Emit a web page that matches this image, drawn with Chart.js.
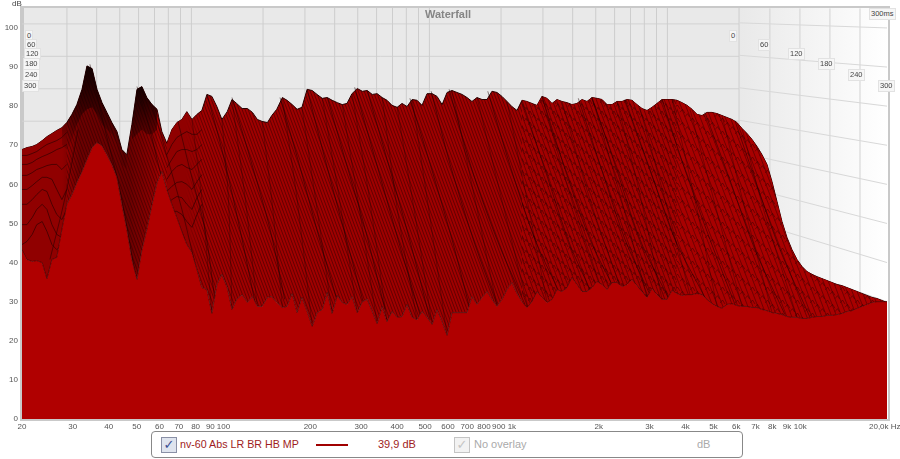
<!DOCTYPE html>
<html>
<head>
<meta charset="utf-8">
<title>Waterfall</title>
<script src="https://cdn.jsdelivr.net/npm/chart.js@4/dist/chart.umd.min.js"></script>
<style>
  html, body { margin: 0; padding: 0; background: #fff; }
  body { width: 900px; height: 459px; overflow: hidden; position: relative; font-family: "Liberation Sans", Arial, sans-serif; }
  canvas { position: absolute; left: 0; top: 0; }
  .t { position: absolute; white-space: nowrap; }
  .tm { position: absolute; font-size: 7.5px; line-height: 10px; height: 10px; padding: 0 1px; color: #444; background: #f6f6f6; border: 1px solid #e2e2e2; }
  .cb { position: absolute; width: 14px; height: 14px; top: 437px; border: 1px solid #8a90a6; background: #dfe4ee; color: #3a4f92; font: bold 13px/14px "DejaVu Sans", sans-serif; text-align: center; }
</style>
</head>
<body>
<canvas id="grafico" width="900" height="459"></canvas>

<div class="t" style="left:425px;top:8px;font-size:11px;font-weight:bold;color:#858585">Waterfall</div>
<div class="t" style="left:12px;top:-1px;font-size:8px;color:#444">dB</div>
<div class="tm" style="left:869px;top:8px;font-size:7.5px">300ms</div>
<div class="t" style="left:869px;top:422px;font-size:8px;color:#555">20,0k Hz</div>

<div style="position:absolute;left:151px;top:431px;width:590px;height:25px;border:1px solid #888;border-radius:4px;background:#fff"></div>
<div class="cb" style="left:161px">&#10003;</div>
<div class="t" style="left:180px;top:438px;font-size:10.7px;color:#a01c22">nv-60 Abs LR BR HB MP</div>
<div style="position:absolute;left:316px;top:444px;width:32px;height:2px;background:#a00000"></div>
<div class="t" style="left:378px;top:438px;font-size:11px;color:#a01c22">39,9 dB</div>
<div class="cb" style="left:454px;background:#f2f2f2;border-color:#c4c4c4;color:#c4c4c4">&#10003;</div>
<div class="t" style="left:474px;top:438px;font-size:11px;color:#aaa">No overlay</div>
<div class="t" style="left:697px;top:438px;font-size:11px;color:#aaa">dB</div>

<script>
  // --- Ejes ---
  const yTicks = [0, 10, 20, 30, 40, 50, 60, 70, 80, 90, 100];
  const xTicks = [20, 30, 40, 50, 60, 70, 80, 90, 100, 200, 300, 400, 500, 600, 700, 800, 900, 1000, 2000, 3000, 4000, 5000, 6000, 7000, 8000, 9000, 10000];
  const xTickLabels = ['20', '30', '40', '50', '60', '70', '80', '90', '100', '200', '300', '400', '500', '600', '700', '800', '900', '1k', '2k', '3k', '4k', '5k', '6k', '7k', '8k', '9k', '10k'];
  const wallFreqs = [30, 40, 50, 60, 70, 80, 90, 100, 200, 300, 400, 500, 600, 700, 800, 900, 1000, 2000, 3000, 4000, 5000, 6000, 7000, 8000, 9000, 10000, 20000];
  const wallDb = [10, 20, 30, 40, 50, 60, 70, 80, 90, 100];
  const timeLineFreqs = [7850, 9980, 12680, 16120];
  const timeLabels = ['0', '60', '120', '180', '240', '300'];

  // --- Curvas ---
  const freqs = [
    20, 20.8, 21.7, 22.5, 23.5, 24.4, 25.4, 26.4, 27.5, 28.6,
    29.8, 31, 32.3, 33.6, 35, 36.4, 37.9, 39.4, 41, 42.7,
    44.4, 46.2, 48.1, 50.1, 52.1, 54.2, 56.5, 58.8, 61.1, 63.6,
    66.2, 68.9, 71.7, 74.6, 77.7, 80.9, 84.1, 87.6, 91.1, 94.8,
    98.7, 103, 107, 111, 116, 121, 126, 131, 136, 142,
    147, 153, 160, 166, 173, 180, 187, 195, 203, 211,
    220, 229, 238, 248, 258, 268, 279, 291, 303, 315,
    328, 341, 355, 369, 384, 400, 416, 433, 451, 469,
    488, 508, 529, 550, 573, 596, 620, 645, 672, 699,
    727, 757, 788, 820, 853, 888, 924, 962, 1000, 1042,
    1084, 1128, 1174, 1222, 1272, 1324, 1378, 1434, 1492, 1553,
    1616, 1682, 1751, 1822, 1896, 1973, 2054, 2138, 2225, 2315,
    2410, 2508, 2610, 2716, 2827, 2942, 3062, 3187, 3317, 3452,
    3592, 3739, 3891, 4050, 4215, 4386, 4565, 4751, 4944, 5146,
    5355, 5573, 5800, 6037, 6283, 6539, 6805, 7082, 7371, 7671,
    7984, 8309, 8647, 9000, 9366, 9748, 10145, 10558, 10988, 11436,
    11902, 12387, 12892, 13417, 13963, 14532, 15124, 15740, 16381, 17048,
    17743, 18466, 19218, 20000
  ];
  // corte de atras (0 ms)
  const backDb = [
    68.9, 69.4, 69.7, 70.2, 71.2, 72.2, 73, 73.8, 74.5, 75.8,
    77.9, 80.4, 84.3, 90.3, 89.6, 84.3, 80.9, 78.4, 75.8, 73.5,
    68.9, 67.6, 75.3, 84.3, 85, 82.2, 80.4, 79.2, 73.5, 70.5,
    74, 75.8, 76.6, 78.6, 76.6, 77.9, 78.9, 83, 82.5, 79.9,
    76.6, 78.6, 81.7, 80.7, 79.4, 79.4, 78.4, 76.6, 76.1, 75.8,
    77.6, 79.2, 82.2, 81.5, 80.4, 79.2, 79.7, 84.3, 84, 83,
    82, 82.2, 81.5, 80.9, 80.4, 80.7, 83.2, 84.5, 83.8, 84,
    83, 83.2, 82.2, 81.5, 80.2, 79.7, 80.7, 79.9, 81.7, 81.5,
    80.2, 83.2, 83.2, 82.5, 80.4, 83.5, 84, 83.5, 83, 82.2,
    81.2, 82.2, 81.7, 81.7, 83.8, 83.5, 82.5, 81.2, 79.9, 78.9,
    81.5, 81.2, 80.7, 80.2, 82.5, 82, 80.7, 81.7, 81.2, 80.9,
    80.4, 80.7, 81.7, 81.2, 82.2, 82, 81.7, 80.4, 80.4, 81.2,
    81.2, 81.7, 81.5, 80.4, 79.4, 78.9, 79.7, 80.7, 81.7, 81.7,
    81.7, 81.5, 80.9, 80.2, 79.2, 77.9, 77.6, 78.4, 78.4, 78.1,
    77.6, 77.1, 76.6, 75.8, 74.3, 73, 71.5, 69.7, 67.6, 65.1,
    60.7, 55.6, 50.5, 46.4, 43.3, 40.8, 39, 37.7, 37, 36.4,
    35.9, 35.4, 34.9, 34.4, 34.1, 33.6, 33.1, 32.6, 32.1, 31.6,
    31.1, 30.8, 30.3, 29.8
  ];
  // corte de delante (300 ms)
  const frontDb = [
    43.3, 40.8, 40.3, 40.5, 40, 35.9, 40.8, 41.3, 48.5, 54.9,
    57.4, 60.5, 63.3, 66.4, 69.4, 70.7, 69.9, 67.6, 65.1, 61.8,
    54.9, 48.5, 40.8, 35.7, 43.3, 48.5, 54.9, 60.5, 63.3, 58.7,
    54.9, 51.5, 48, 44.6, 42.6, 38.2, 33.6, 33.1, 27, 34.4,
    37, 33.6, 28, 30.6, 31.8, 29.8, 31.3, 28.8, 28.8, 31.1,
    31.3, 29.8, 28.5, 28.8, 32.1, 27.2, 31.1, 27.5, 23.7, 27.2,
    28, 32.4, 27, 31.6, 29.8, 29.3, 31.3, 27.2, 30, 30.6,
    27.5, 24.4, 28.8, 24.9, 27.5, 26, 26.2, 29.3, 26, 25.4,
    27.5, 26, 24.2, 28, 24.9, 21.4, 27.2, 27.2, 27.2, 27.2,
    31.3, 29.3, 31.1, 32.6, 30.6, 28.8, 30.6, 33.1, 34.9, 32.1,
    30, 28.5, 30, 32.6, 31.1, 29.8, 30.6, 33.1, 32.6, 33.6,
    36.2, 34.4, 32.6, 32.6, 33.6, 35.2, 34.4, 33.1, 34.9, 34.9,
    33.9, 34.4, 35.7, 34.1, 32.6, 31.1, 33.4, 31.8, 30.6, 30.6,
    32.9, 32.1, 31.6, 31.8, 31.8, 32.1, 31.8, 30.6, 29.5, 28.8,
    28.3, 29.3, 29.5, 29, 28.8, 28.8, 28.5, 28.5, 28, 27.7,
    27.2, 27, 26.7, 26.2, 26, 26, 25.7, 25.7, 26, 26.2,
    26.2, 26.5, 26.5, 26.7, 27, 27.5, 27.7, 28.3, 28.8, 29.3,
    29.8, 30, 30, 30
  ];
  // cortes intermedios visibles a la izquierda (20-29 Hz)
  const lowSlices = [
    [67.4, 67.4, 67.9, 68.4, 69.4, 70.2, 70.7, 71.2, 72, 73.3],
    [65.1, 65.1, 65.6, 66.4, 67.1, 67.6, 68.2, 68.9, 69.4, 70.2],
    [62.3, 62.3, 63, 63.8, 64.3, 64.8, 65.1, 65.1, 63.8, 65.1],
    [58.7, 58.7, 59.7, 60.7, 61.8, 61.8, 61.3, 58.7, 56.1, 58.7],
    [54.9, 54.9, 56.1, 57.4, 58.7, 58.2, 54.9, 52.3, 51, 53.6],
    [49.7, 49.7, 51.5, 53.6, 54.9, 53.6, 49.7, 47.2, 46.4, 49.7],
    [44.6, 45.4, 47.2, 49.7, 50.5, 48, 44.6, 43.3, 44.6, 46.4]
  ];
  // cortes intermedios visibles entre 64 y 84 Hz
  const midSlices = [
    [67.6, 70.2, 72, 72.8, 73.5, 72.8, 72.8, 74],
    [64.3, 66.4, 68.4, 68.9, 68.9, 68.4, 68.9, 70.2],
    [61.3, 63.3, 64.6, 65.1, 64.3, 63.8, 65.1, 66.4],
    [58.2, 59.5, 60.5, 60.7, 60, 58.7, 60.7, 62.5],
    [54.9, 56.1, 56.9, 56.6, 54.9, 53.6, 56.6, 58.7],
    [51.5, 53.1, 53.1, 52.3, 50.5, 49, 52.3, 54.9]
  ];
  // zona negra de los picos de 34 Hz y 51 Hz (limite inferior)
  const darkPeakA = [70.2, 68.9, 71.5, 75.3, 77.9, 79.2, 79.7, 77.9, 75.3, 74, 72.8, 70.2, 65.1, 63.8];
  const darkPeakB = [71.5, 72.8, 74, 72.8, 72.8, 74];
  // crestas oscuras que bajan desde cada lobulo: [Hz, dB]
  const ridges = [
    [[31.3, 74], [28.1, 56.1], [25, 40.8]],
    [[34.4, 90.7], [38.8, 74], [43.7, 58.7], [49.4, 37]],
    [[50.1, 85], [55.5, 74], [62.7, 58.7], [73.4, 45.9]],
    [[56.5, 80.4], [62.7, 68.9], [71.7, 53.6], [82.8, 34.4]],
    [[69.5, 76.1], [76.4, 63.8], [86.2, 48.5], [93.3, 30.6]],
    [[87.6, 83], [98.7, 68.9], [114, 48.5], [129, 29.3]],
    [[107, 82.2], [124, 66.4], [145, 48.5], [163, 30.6]],
    [[157, 82.2], [181, 66.4], [213, 47.2], [250, 29.3]],
    [[195, 84.3], [225, 66.4], [264, 47.2], [310, 28]],
    [[229, 82.2], [264, 66.4], [310, 48.5], [363, 28]],
    [[285, 84.8], [336, 66.4], [403, 45.9], [480, 26.7]],
    [[315, 84], [369, 66.4], [437, 47.2], [521, 25.4]],
    [[443, 82], [521, 65.1], [620, 45.9], [716, 28]],
    [[525, 83.8], [611, 65.1], [745, 44.6], [888, 29.3]],
    [[606, 84.3], [727, 63.8], [888, 45.9], [1110, 29.3]],
    [[825, 83.8], [983, 65.1], [1203, 45.9], [1446, 33.1]],
    [[1084, 81.5], [1302, 63.8], [1590, 44.6], [1866, 33.1]],
    [[1272, 82.5], [1530, 63.8], [1866, 45.9], [2225, 34.4]],
    [[1700, 82], [2021, 65.1], [2469, 45.9], [3013, 31.8]],
    [[1896, 82.2], [2278, 65.1], [2782, 45.9], [3481, 31.1]],
    [[2469, 81.7], [3013, 63.8], [3680, 45.9], [4673, 31.1]],
    [[3317, 81.7], [3982, 63.8], [4865, 45.9], [5939, 29.3]],
    [[4673, 78.4], [5618, 62.5], [6968, 43.3], [8851, 26.7]],
    [[5939, 76.3], [6968, 61.3], [8510, 43.3], [10816, 26]]
  ];
  // crestas secundarias que acaban en los picos del corte de delante
  const thinRidges = [
    [[77.7, 76.6], [84.1, 56.1], [91.1, 27]],
    [[98.7, 76.6], [104, 56.1], [107, 28]],
    [[107, 81.7], [119, 56.1], [131, 28.8]],
    [[136, 76.1], [147, 56.1], [160, 28.5]],
    [[160, 82.2], [180, 56.1], [203, 23.7]],
    [[187, 79.7], [211, 53.6], [238, 27]],
    [[220, 82], [254, 54.9], [291, 27.2]],
    [[258, 80.4], [298, 52.3], [341, 24.4]],
    [[279, 83.2], [323, 54.9], [369, 24.9]],
    [[355, 82.2], [403, 52.3], [469, 25.4]],
    [[400, 79.7], [461, 52.3], [529, 24.2]],
    [[451, 81.7], [521, 51], [596, 21.4]],
    [[620, 84], [745, 56.1], [888, 28.8]],
    [[757, 82.2], [931, 54.9], [1137, 28.5]],
    [[962, 81.2], [1137, 54.9], [1324, 29.8]],
    [[1272, 82.5], [1590, 57.4], [2021, 34.4]],
    [[1492, 81.2], [1866, 56.1], [2372, 33.9]],
    [[1896, 82.2], [2372, 57.4], [2942, 31.1]],
    [[2315, 81.2], [2782, 57.4], [3317, 30.6]],
    [[2782, 79.4], [3396, 56.1], [4147, 31.8]],
    [[3592, 81.7], [4314, 56.1], [5146, 28.8]],
    [[4147, 79.2], [5063, 54.9], [6283, 28.8]],
    [[5355, 77.6], [6435, 53.6], [7984, 27.2]],
    [[6283, 74.3], [7550, 52.3], [9748, 26]]
  ];

  const wallToFront = db => 18.2 + 0.831 * db;
  const sinBorde = { borderWidth: 0, borderColor: 'transparent' };
  const pts = (xs, ys) => ys.map((y, i) => ({ x: xs[i], y }));
  const ctx = document.getElementById('grafico').getContext('2d');

  function hatch(w, h, base, lineas, fn) {
    const c = document.createElement('canvas');
    c.width = w; c.height = h;
    const g = c.getContext('2d');
    g.fillStyle = base;
    g.fillRect(0, 0, w, h);
    g.strokeStyle = lineas;
    g.lineWidth = 0.8;
    fn(g, w, h);
    return g.createPattern(c, 'repeat');
  }
  const rayado = hatch(3, 8, '#a00000', 'rgba(45,0,0,0.65)', (g, w, h) => {
    for (const dx of [-w, 0, w]) { g.beginPath(); g.moveTo(dx, 0); g.lineTo(dx + w, h); g.stroke(); }
  });
  // celdas con lineas inclinadas y pequenas uves escalonadas
  function celdas(paso, h, base, lineas) {
    return hatch(paso * 3, h, base, lineas, g => {
      for (let dx = -paso * 3; dx <= paso * 3; dx += paso) {
        g.beginPath(); g.moveTo(dx, 0); g.lineTo(dx + paso, h); g.stroke();
      }
      [0, 1, 2].forEach(k => {
        const x = k * paso, y = 2 + (k * h) / 3;
        g.beginPath(); g.moveTo(x, y + 2); g.lineTo(x + paso / 2, y - 1); g.lineTo(x + paso, y + 3); g.stroke();
      });
    });
  }
  const rayadoMedio = celdas(4, 11, '#a30000', 'rgba(45,0,0,0.62)');
  const zigzag = celdas(5, 13, '#a80000', 'rgba(45,0,0,0.58)');

  function degradado(y0, y1, a0, a1) {
    const lg = ctx.createLinearGradient(0, y0, 0, y1);
    lg.addColorStop(0, `rgba(12,0,0,${a0})`);
    lg.addColorStop(1, `rgba(12,0,0,${a1})`);
    return lg;
  }
  function sombraX(x0, x1, x2, x3, a, rgb = '30,0,0') {
    const lg = ctx.createLinearGradient(x0, 0, x3, 0);
    const t = v => (v - x0) / (x3 - x0);
    lg.addColorStop(0, `rgba(${rgb},0)`);
    lg.addColorStop(t(x1), `rgba(${rgb},${a})`);
    lg.addColorStop(t(x2), `rgba(${rgb},${a})`);
    lg.addColorStop(1, `rgba(${rgb},0)`);
    return lg;
  }

  const datasets = [];
  function add(ds) { datasets.push(Object.assign({ pointRadius: 0, tension: 0, fill: false }, ds)); return datasets.length - 1; }
  // zona rellena entre dos curvas de la misma rejilla
  function zona(desde, hasta, arriba, abajo, color, order) {
    const xs = freqs.slice(desde, hasta);
    const idx = add(Object.assign({}, sinBorde, { data: pts(xs, abajo), order: order + 1 }));
    add(Object.assign({}, sinBorde, { data: pts(xs, arriba), backgroundColor: color, fill: { target: idx }, order }));
  }

  // paredes
  wallFreqs.forEach(f => add({ xAxisID: 'xBack', yAxisID: 'yBack', data: [{ x: f, y: -22 }, { x: f, y: 105 }], borderColor: '#cdcdcd', borderWidth: 1, order: 100 }));
  wallDb.forEach(d => {
    add({ xAxisID: 'xBack', yAxisID: 'yBack', data: [{ x: 19.4, y: d }, { x: 20000, y: d }], borderColor: '#d2d2d2', borderWidth: 1, order: 100 });
    add({ data: [{ x: 6174, y: wallToFront(d) }, { x: 20000, y: d }], borderColor: '#d8d8d8', borderWidth: 1, order: 100 });
  });
  timeLineFreqs.forEach(f => add({ data: [{ x: f, y: 0 }, { x: f, y: 105 }], borderColor: '#d2d2d2', borderWidth: 1, order: 100 }));

  const frontIdx = add({ data: pts(freqs, frontDb), borderColor: 'rgba(50,0,0,0.75)', borderWidth: 0.8, backgroundColor: '#b00000', fill: 'origin', order: 60 });
  add({ data: pts(freqs, backDb), borderColor: '#2a0000', borderWidth: 1, backgroundColor: rayado, fill: { target: frontIdx }, order: 94 });

  // tramo medio y tramo alto con celdas
  zona(100, 132, backDb.slice(100, 132), frontDb.slice(100, 132), rayadoMedio, 92);
  zona(131, 174, backDb.slice(131, 174), frontDb.slice(131, 174), zigzag, 90);
  // zona izquierda lisa con lineas horizontales
  zona(0, 10, backDb.slice(0, 10), frontDb.slice(0, 10), '#900000', 88);
  lowSlices.forEach(s => add({ data: pts(freqs.slice(0, 10), s), borderColor: 'rgba(40,0,0,0.8)', borderWidth: 0.8, order: 70 }));
  zona(29, 37, backDb.slice(29, 37), frontDb.slice(29, 37), sombraX(166, 168, 185, 203, 1, '144,0,0'), 88);
  midSlices.forEach(s => add({ data: pts(freqs.slice(29, 37), s), borderColor: 'rgba(40,0,0,0.8)', borderWidth: 0.8, order: 70 }));
  // picos oscuros
  zona(8, 28, backDb.slice(8, 28), frontDb.slice(8, 28), sombraX(62, 80, 130, 165, 0.4), 86);
  zona(8, 22, backDb.slice(8, 22), darkPeakA, degradado(65, 140, 0.95, 0.15), 84);
  zona(22, 28, backDb.slice(22, 28), darkPeakB, degradado(87, 150, 0.9, 0.15), 84);

  // crestas
  ridges.forEach(r => add({ data: r.map(p => ({ x: p[0], y: p[1] })), borderColor: 'rgba(25,0,0,0.5)', borderWidth: 1, tension: 0.3, order: 70 }));
  thinRidges.forEach(r => add({ data: r.map(p => ({ x: p[0], y: p[1] })), borderColor: 'rgba(25,0,0,0.42)', borderWidth: 0.8, tension: 0.3, order: 71 }));

  // fondo de las paredes y marco
  const fondo = {
    id: 'fondo',
    beforeDraw(chart) {
      const a = chart.chartArea, g = chart.ctx;
      const xw = chart.scales.xBack.getPixelForValue(20000);
      g.save();
      g.fillStyle = '#e9e9e9';
      g.fillRect(a.left, a.top, xw - a.left, a.height);
      const lg = g.createLinearGradient(xw, 0, a.right + 2, 0);
      lg.addColorStop(0, '#e9e9e9');
      lg.addColorStop(1, '#ffffff');
      g.fillStyle = lg;
      g.fillRect(xw, a.top, a.right + 2 - xw, a.height);
      g.fillStyle = '#c9c9c9';
      g.fillRect(a.left - 2, a.top - 2, 4, a.height + 4);
      g.fillRect(a.left - 2, a.top - 2, a.width + 5, 2);
      g.fillRect(a.right + 1, a.top - 2, 2, a.height + 4);
      g.fillRect(a.left - 2, a.bottom, a.width + 5, 2);
      g.restore();
    }
  };

  new Chart(ctx, {
    type: 'line',
    data: { datasets },
    plugins: [fondo],
    options: {
      responsive: false,
      animation: false,
      events: [],
      layout: { padding: { top: 8, right: 13, left: 0, bottom: 0 } },
      plugins: { legend: { display: false }, tooltip: { enabled: false }, title: { display: false } },
      scales: {
        x: {
          type: 'logarithmic', min: 20, max: 20000,
          grid: { display: false, drawTicks: false }, border: { display: false },
          afterBuildTicks: s => { s.ticks = xTicks.map(v => ({ value: v })); },
          afterFit: s => { s.height = 40; s.paddingLeft = 0; s.paddingRight = 0; },
          ticks: {
            autoSkip: false, maxRotation: 0, minRotation: 0, padding: 3,
            color: '#555', font: { size: 8, family: '"Liberation Sans", Arial, sans-serif' },
            callback: v => { const i = xTicks.indexOf(v); return i < 0 ? '' : xTickLabels[i]; }
          }
        },
        y: {
          type: 'linear', min: 0, max: 105.1,
          grid: { display: false, drawTicks: false }, border: { display: false },
          afterBuildTicks: s => { s.ticks = yTicks.map(v => ({ value: v })); },
          afterFit: s => { s.width = 22; s.paddingTop = 0; s.paddingBottom = 0; },
          ticks: { padding: 4, color: '#555', font: { size: 8, family: '"Liberation Sans", Arial, sans-serif' } }
        },
        xBack: { type: 'logarithmic', display: false, min: 19.42, max: 83700 },
        yBack: { type: 'linear', display: false, min: -21.8, max: 104.9 }
      }
    }
  });

  // etiquetas de tiempo de los dos lados
  const izq = [[25, 30], [25, 39], [24, 48], [23, 58], [23, 69], [22, 80]];
  const der = [[729, 30], [758, 39], [788, 48], [818, 58], [848, 69], [878, 80]];
  [izq, der].forEach(lado => lado.forEach((p, i) => {
    const d = document.createElement('div');
    d.className = 'tm';
    d.style.left = p[0] + 'px';
    d.style.top = p[1] + 'px';
    d.textContent = timeLabels[i];
    document.body.appendChild(d);
  }));
</script>
</body>
</html>
